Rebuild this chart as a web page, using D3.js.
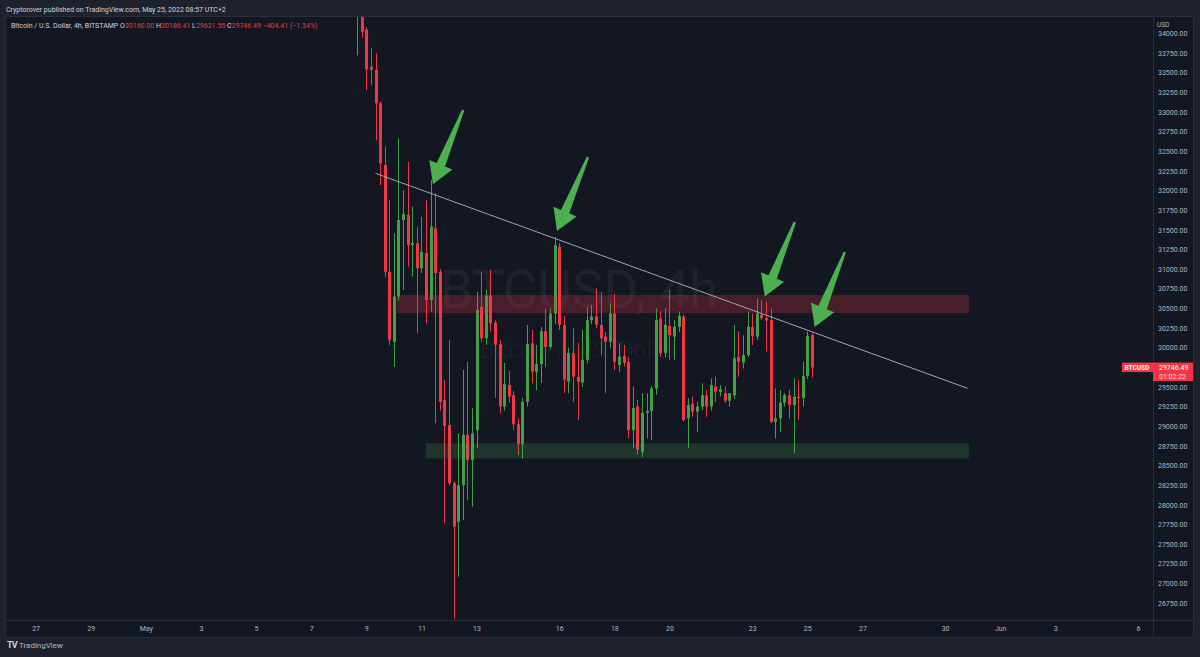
<!DOCTYPE html>
<html>
<head>
<meta charset="utf-8">
<script src="https://cdn.jsdelivr.net/npm/d3@7"></script>
<style>
  html, body { margin: 0; padding: 0; background: #1e222d; }
  svg { display: block; }
  text { font-family: Roboto, "Noto Sans", sans-serif; }
</style>
</head>
<body>
<div class="canvas"></div>
<script>
// 4h candles, first one opens May 8 16:00 UTC
const firstCandle = '2022-05-08T16:00:00Z';
const candleHours = 4;

const opens = [
  34260, 34350, 34050, 33575, 33535, 33110, 32325, 30965, 30075, 30650,
  31625, 31690, 31305, 31330, 31010, 31205, 30605, 31520, 30965, 29335,
  29015, 28275, 27785, 28250, 28890, 28570, 28950, 30520, 30120, 30665,
  30318, 30045, 29250, 29525, 29395, 29025, 28775, 29310, 30055, 29695,
  29790, 30210, 30010, 30435, 31285, 30290, 29570, 29930, 29630, 29555,
  29845, 30350, 30395, 30290, 30140, 30075, 30435, 29780, 29895, 29820,
  28950, 29250, 28675, 29170, 29195, 29480, 30370, 29930, 30275, 30140,
  30265, 30395, 29100, 29285, 29185, 29250, 29395, 29250, 29505, 29440,
  29420, 29325, 29395, 29885, 29810, 29905, 30265, 30140, 30420, 30375,
  30350, 29055, 29100, 29300, 29395, 29270, 29375, 29360, 29640, 30160.00
];
const highs = [
  34450, 34420, 34080, 33810, 33745, 33130, 32560, 31880, 31455, 32665,
  32005, 32365, 31795, 31540, 31665, 31880, 32135, 31965, 31000, 29590,
  30100, 28300, 28910, 29715, 29820, 29230, 30710, 30965, 30735, 30990,
  30350, 30100, 29805, 29700, 29450, 29100, 29360, 30290, 30225, 30035,
  30265, 30500, 30505, 31410, 31330, 30400, 30000, 30245, 30060, 30225,
  30520, 30545, 30755, 30710, 30200, 30565, 30685, 30055, 30035, 29880,
  29505, 29335, 29420, 29420, 29510, 30500, 30460, 30500, 30735, 30350,
  30460, 30420, 29355, 29375, 29310, 29545, 29460, 29610, 29630, 29520,
  29505, 29400, 30290, 30205, 30160, 30460, 30435, 30630, 30605, 30585,
  30500, 29480, 29460, 29420, 29460, 29610, 29590, 29820, 30205, 30186.41
];
const lows = [
  33720, 33940, 33280, 33340, 32640, 32070, 30900, 30030, 29755, 30600,
  30735, 31030, 30905, 30185, 30950, 30310, 30460, 29040, 29200, 27765,
  28250, 26550, 27085, 27805, 28060, 27975, 28720, 30080, 30035, 30205,
  29360, 29165, 29200, 29300, 28950, 28635, 28590, 29250, 29545, 29460,
  29550, 29755, 29980, 30300, 30225, 29420, 29420, 29310, 29080, 29500,
  29800, 30300, 30250, 29905, 29420, 30000, 29715, 29695, 29760, 28845,
  28720, 28635, 28610, 28845, 28825, 29400, 29885, 29880, 29845, 29845,
  30200, 29060, 28720, 29120, 28930, 29200, 29120, 29200, 29310, 29380,
  29300, 29250, 29350, 29630, 29735, 29880, 30035, 30100, 30350, 29950,
  29040, 28845, 28930, 29250, 29100, 28655, 29080, 29250, 29600, 29621.55
];
const closes = [
  34350, 34020, 33540, 33535, 33110, 32345, 30965, 30100, 30650, 31625,
  31700, 31305, 31330, 31010, 31220, 30605, 31540, 30950, 29310, 29005,
  28275, 27720, 28250, 28890, 28570, 28910, 30480, 30120, 30665, 30310,
  30035, 29250, 29535, 29375, 29025, 28775, 29310, 30045, 29695, 29790,
  30210, 30010, 30435, 31305, 30290, 29590, 29930, 29630, 29565, 29845,
  30350, 30395, 30290, 30120, 30075, 30435, 29820, 29885, 29810, 28950,
  29230, 28700, 29170, 29195, 29480, 30350, 29930, 30290, 30160, 30265,
  30405, 29080, 29270, 29185, 29250, 29395, 29250, 29525, 29440, 29470,
  29325, 29420, 29865, 29820, 29905, 30265, 30150, 30435, 30375, 30345,
  29055, 29100, 29300, 29395, 29270, 29375, 29360, 29640, 30150.90, 29746.49
];

// time axis labels
const tickDates = ['2022-04-27', '2022-04-29', '2022-05-01', '2022-05-03', '2022-05-05',
  '2022-05-07', '2022-05-09', '2022-05-11', '2022-05-13', '2022-05-16', '2022-05-18',
  '2022-05-20', '2022-05-23', '2022-05-25', '2022-05-27', '2022-05-30', '2022-06-01',
  '2022-06-03', '2022-06-06'];
const tickLabels = ['27', '29', 'May', '3', '5', '7', '9', '11', '13', '16', '18',
  '20', '23', '25', '27', '30', 'Jun', '3', '6'];

// price axis
const priceMin = 26750;
const priceMax = 34000;
const priceStep = 250;

// drawings: zones
const zoneNames = ['resistance', 'support'];
const zoneStart = ['2022-05-10T02:30:00Z', '2022-05-11T03:50:00Z'];
const zoneEnd = ['2022-05-30T20:40:00Z', '2022-05-30T20:40:00Z'];
const zoneLow = [30440, 28590];
const zoneHigh = [30670, 28782];

// drawings: trend line
const trendTimes = ['2022-05-09T08:00:00Z', '2022-05-30T19:30:00Z'];
const trendPrices = [32219, 29483];

// drawings: arrows (tail -> tip)
const arrowTipTimes = ['2022-05-11T10:00:00Z', '2022-05-15T22:00:00Z', '2022-05-23T11:00:00Z', '2022-05-25T06:30:00Z'];
const arrowTipPrices = [32080, 31485, 30651, 30263];
const arrowTailTimes = ['2022-05-12T12:20:00Z', '2022-05-17T01:00:00Z', '2022-05-24T13:10:00Z', '2022-05-26T08:40:00Z'];
const arrowTailPrices = [33025, 32426, 31599, 31217];

// layout
const W = 1200, H = 657;
const pane = { left: 5, right: 1153, top: 16, bottom: 620 };
const axisRight = 1194, axisBottom = 638;

const colors = {
  outer: '#1e222d',
  pane: '#131722',
  border: '#2a2e39',
  text: '#b2b5be',
  up: '#43a047',
  down: '#f23645',
  arrow: '#4caf50'
};

const svg = d3.select('.canvas')
  .append('svg')
  .attr('width', W)
  .attr('height', H);

svg.append('rect').attr('width', W).attr('height', H).attr('fill', colors.outer);

// chart frame
svg.append('rect')
  .attr('x', pane.left).attr('y', pane.top)
  .attr('width', axisRight - pane.left).attr('height', axisBottom - pane.top)
  .attr('fill', colors.pane);

// scales
const x = d3.scaleUtc()
  .domain([new Date('2022-04-27T00:00:00Z'), new Date('2022-06-06T00:00:00Z')])
  .range([35.6, 1138]);
const y = d3.scaleLinear()
  .domain([priceMin, priceMax])
  .range([603, 33.4]);

svg.append('clipPath').attr('id', 'paneClip')
  .append('rect')
  .attr('x', pane.left).attr('y', pane.top)
  .attr('width', pane.right - pane.left).attr('height', pane.bottom - pane.top);

const graph = svg.append('g').attr('clip-path', 'url(#paneClip)');

// watermark
graph.append('text')
  .attr('x', (pane.left + pane.right) / 2)
  .attr('y', 308)
  .attr('text-anchor', 'middle')
  .attr('font-size', 53)
  .attr('fill', 'rgba(255,255,255,0.05)')
  .text('BTCUSD, 4h');
graph.append('text')
  .attr('x', (pane.left + pane.right) / 2)
  .attr('y', 358)
  .attr('text-anchor', 'middle')
  .attr('font-size', 23)
  .attr('fill', 'rgba(255,255,255,0.05)')
  .text('Bitcoin / U.S. Dollar');

// candles
const t0 = new Date(firstCandle).getTime();
const candles = opens.map((o, i) => ({
  time: new Date(t0 + i * candleHours * 3600 * 1000),
  open: o, high: highs[i], low: lows[i], close: closes[i]
}));

const candleG = graph.append('g');
const bars = candleG.selectAll('g.candle')
  .data(candles)
  .enter()
  .append('g')
  .attr('class', 'candle');

bars.append('line')
  .attr('x1', d => Math.round(x(d.time)) + 0.5)
  .attr('x2', d => Math.round(x(d.time)) + 0.5)
  .attr('y1', d => y(d.high))
  .attr('y2', d => y(d.low))
  .attr('stroke', d => d.close >= d.open ? colors.up : colors.down)
  .attr('stroke-width', 1);

bars.append('rect')
  .attr('x', d => Math.round(x(d.time)) - 1)
  .attr('width', 3)
  .attr('y', d => y(Math.max(d.open, d.close)))
  .attr('height', d => Math.max(1, Math.abs(y(d.open) - y(d.close))))
  .attr('fill', d => d.close >= d.open ? colors.up : colors.down);

// zones
const zones = zoneNames.map((n, i) => ({
  name: n, start: new Date(zoneStart[i]), end: new Date(zoneEnd[i]), lo: zoneLow[i], hi: zoneHigh[i]
}));
graph.selectAll('rect.zone')
  .data(zones)
  .enter()
  .append('rect')
  .attr('class', 'zone')
  .attr('x', d => x(d.start))
  .attr('width', d => x(d.end) - x(d.start))
  .attr('y', d => y(d.hi))
  .attr('height', d => y(d.lo) - y(d.hi))
  .attr('fill', d => d.name === 'resistance' ? 'rgba(242,54,69,0.24)' : 'rgba(76,175,80,0.2)');

// trend line
graph.append('line')
  .attr('x1', x(new Date(trendTimes[0]))).attr('y1', y(trendPrices[0]))
  .attr('x2', x(new Date(trendTimes[1]))).attr('y2', y(trendPrices[1]))
  .attr('stroke', '#a3a6af')
  .attr('stroke-width', 1);

// arrows
const arrowPath = (tail, tip) => {
  const dx = tip[0] - tail[0], dy = tip[1] - tail[1];
  const len = Math.hypot(dx, dy);
  const ux = dx / len, uy = dy / len;
  const nx = -uy, ny = ux;
  const headLen = 21, headHalf = 12.5, shaftHalf = 4.5, tailHalf = 1.2;
  const bx = tip[0] - ux * headLen, by = tip[1] - uy * headLen;
  const pts = [
    [tail[0] + nx * tailHalf, tail[1] + ny * tailHalf],
    [bx + nx * shaftHalf, by + ny * shaftHalf],
    [bx + nx * headHalf, by + ny * headHalf],
    tip,
    [bx - nx * headHalf, by - ny * headHalf],
    [bx - nx * shaftHalf, by - ny * shaftHalf],
    [tail[0] - nx * tailHalf, tail[1] - ny * tailHalf]
  ];
  return d3.line()(pts) + 'Z';
};
const arrows = arrowTipTimes.map((t, i) => ({
  tip: [x(new Date(t)), y(arrowTipPrices[i])],
  tail: [x(new Date(arrowTailTimes[i])), y(arrowTailPrices[i])]
}));
graph.selectAll('path.arrow')
  .data(arrows)
  .enter()
  .append('path')
  .attr('class', 'arrow')
  .attr('d', d => arrowPath(d.tail, d.tip))
  .attr('fill', colors.arrow);

// price axis
const priceTicks = d3.range(priceMin, priceMax + 1, priceStep);
const yAxis = d3.axisRight(y)
  .tickValues(priceTicks)
  .tickFormat(d3.format('.2f'))
  .tickSize(0)
  .tickPadding(5);
const yAxisG = svg.append('g')
  .attr('transform', `translate(${pane.right}, 0)`)
  .call(yAxis);
yAxisG.select('.domain').remove();
yAxisG.selectAll('text')
  .attr('fill', colors.text)
  .attr('font-size', 7)
  .attr('font-family', 'Roboto, sans-serif');

// cover for ticks above the axis top
svg.append('rect')
  .attr('x', pane.right).attr('y', 0)
  .attr('width', axisRight - pane.right + 4).attr('height', pane.top)
  .attr('fill', colors.outer);

svg.append('rect')
  .attr('x', pane.right + 1).attr('y', pane.top + 1)
  .attr('width', 20).attr('height', 8)
  .attr('fill', colors.pane);
svg.append('text')
  .attr('x', pane.right + 4).attr('y', 26.5)
  .attr('fill', colors.text)
  .attr('font-size', 6.5)
  .text('USD');

// time axis
const xAxis = d3.axisBottom(x)
  .tickValues(tickDates.map(d => new Date(d + 'T00:00:00Z')))
  .tickFormat((d, i) => tickLabels[i])
  .tickSize(0)
  .tickPadding(6);
const xAxisG = svg.append('g')
  .attr('transform', `translate(0, ${pane.bottom})`)
  .call(xAxis);
xAxisG.select('.domain').remove();
xAxisG.selectAll('text')
  .attr('fill', colors.text)
  .attr('font-size', 7)
  .attr('font-family', 'Roboto, sans-serif');

// frame lines
const frame = svg.append('g')
  .attr('stroke', colors.border)
  .attr('stroke-width', 1)
  .attr('fill', 'none');
frame.append('rect')
  .attr('x', pane.left + 0.5).attr('y', pane.top + 0.5)
  .attr('width', axisRight - pane.left - 1).attr('height', axisBottom - pane.top - 1);
frame.append('line')
  .attr('x1', pane.left).attr('x2', axisRight)
  .attr('y1', pane.bottom + 0.5).attr('y2', pane.bottom + 0.5);
frame.append('line')
  .attr('x1', pane.right + 0.5).attr('x2', pane.right + 0.5)
  .attr('y1', pane.top).attr('y2', axisBottom);

// last price labels
const last = candles[candles.length - 1];
const prev = candles[candles.length - 2];
const lastY = y(last.close);
svg.append('rect')
  .attr('x', 1122).attr('y', lastY - 5)
  .attr('width', pane.right - 1122).attr('height', 9.5)
  .attr('fill', colors.down);
svg.append('text')
  .attr('x', 1124.5).attr('y', lastY + 2.2)
  .attr('fill', '#fff')
  .attr('font-size', 6.5)
  .attr('font-weight', 'bold')
  .text('BTCUSD');
svg.append('rect')
  .attr('x', pane.right).attr('y', lastY - 5)
  .attr('width', axisRight - pane.right - 1).attr('height', 18.5)
  .attr('fill', colors.down);
svg.append('text')
  .attr('x', pane.right + 6).attr('y', lastY + 2.5)
  .attr('fill', '#fff')
  .attr('font-size', 7)
  .text(d3.format('.2f')(last.close));
svg.append('text')
  .attr('x', pane.right + 6).attr('y', lastY + 11.5)
  .attr('fill', '#ffd9dc')
  .attr('font-size', 7)
  .text('01:02:22');

// header texts
svg.append('text')
  .attr('x', 6).attr('y', 11.5)
  .attr('fill', '#d1d4dc')
  .attr('font-size', 7)
  .text('Cryptorover published on TradingView.com, May 25, 2022 08:57 UTC+2');

const legend = svg.append('text')
  .attr('x', 11).attr('y', 27.5)
  .attr('font-size', 7)
  .attr('fill', '#d1d4dc');
legend.append('tspan').text('Bitcoin / U.S. Dollar, 4h, BITSTAMP  ');
// change is measured against the previous close
const chg = last.close - prev.close;
const ohlc = [['O', last.open], ['H', last.high], ['L', last.low], ['C', last.close]];
ohlc.forEach(([k, v]) => {
  legend.append('tspan').attr('fill', '#d1d4dc').text(k);
  legend.append('tspan').attr('fill', colors.down).text(d3.format('.2f')(v) + '  ');
});
legend.append('tspan').attr('fill', colors.down)
  .text(`${d3.format('.2f')(chg).replace('-', '\u2212')} (${d3.format('.2f')(chg / prev.close * 100).replace('-', '\u2212')}%)`);

// footer logo
const logo = svg.append('g').attr('transform', 'translate(7, 645)');
logo.append('text')
  .attr('x', 0).attr('y', 3)
  .attr('fill', '#d1d4dc')
  .attr('font-size', 9)
  .attr('font-weight', 'bold')
  .attr('letter-spacing', -0.8)
  .text('TV');
logo.append('text')
  .attr('x', 12).attr('y', 3)
  .attr('fill', '#b2b5be')
  .attr('font-size', 8)
  .text('TradingView');
</script>
</body>
</html>
